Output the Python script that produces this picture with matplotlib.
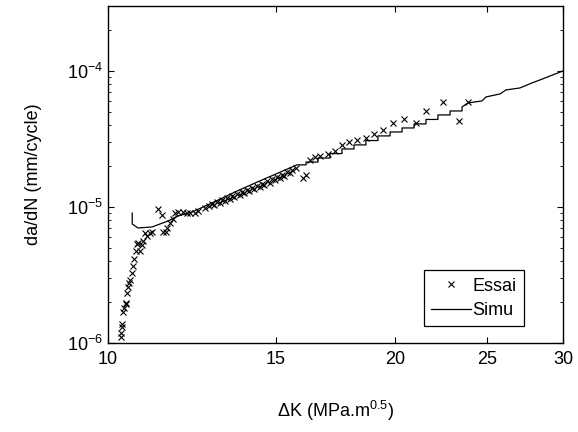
import matplotlib
matplotlib.use("Agg")
import matplotlib.pyplot as plt
from matplotlib.ticker import NullLocator, FixedLocator, FixedFormatter

plt.rcParams["font.family"] = ["Liberation Sans", "DejaVu Sans"]
plt.rcParams["mathtext.default"] = "regular"

# Essai (points mesures)
essai_dk = [10.32, 10.32, 10.34, 10.34, 10.37, 10.39, 10.44, 10.44, 10.47, 10.49,
            10.52, 10.55, 10.60, 10.62, 10.65, 10.70, 10.73, 10.75, 10.80, 10.86,
            10.88, 10.93, 10.99, 11.07, 11.12, 11.28, 11.38, 11.42, 11.50, 11.53,
            11.61, 11.70, 11.76, 11.84, 11.97, 12.10, 12.19, 12.34, 12.43, 12.64,
            12.75, 12.85, 13.01, 13.17, 13.33, 13.49, 13.65, 13.82, 13.99, 14.16,
            14.33, 14.50, 14.68, 14.86, 15.04, 15.22, 15.41, 15.59, 15.75, 16.01,
            16.13, 16.29, 16.49, 16.68, 17.00, 17.30, 17.60, 17.90, 18.24, 18.64,
            19.01, 19.43, 19.90, 20.44, 21.04, 21.55, 22.45, 23.34, 23.85,
            12.93, 13.09, 13.25, 13.41, 13.57, 13.74, 13.90, 14.07, 14.24, 14.42,
            14.59, 14.77, 14.95, 15.13, 15.31, 15.50]
essai_dadn = [1.11e-6, 1.18e-6, 1.31e-6, 1.38e-6, 1.69e-6, 1.81e-6, 1.94e-6, 1.97e-6, 2.33e-6, 2.58e-6,
              2.76e-6, 2.91e-6, 3.27e-6, 3.68e-6, 4.15e-6, 4.75e-6, 5.35e-6, 5.44e-6, 4.75e-6, 5.26e-6,
              5.62e-6, 6.44e-6, 6.12e-6, 6.44e-6, 6.55e-6, 9.67e-6, 8.73e-6, 6.55e-6, 6.55e-6, 7.01e-6,
              7.63e-6, 8.16e-6, 9.03e-6, 9.19e-6, 9.19e-6, 9.03e-6, 9.03e-6, 9.03e-6, 9.36e-6, 9.84e-6,
              1.017e-5, 1.052e-5, 1.089e-5, 1.125e-5, 1.165e-5, 1.205e-5, 1.247e-5, 1.29e-5, 1.33e-5, 1.38e-5,
              1.43e-5, 1.48e-5, 1.55e-5, 1.61e-5, 1.66e-5, 1.72e-5, 1.81e-5, 1.87e-5, 1.94e-5, 1.63e-5,
              1.72e-5, 2.22e-5, 2.33e-5, 2.37e-5, 2.45e-5, 2.58e-5, 2.86e-5, 3.0e-5, 3.11e-5, 3.22e-5,
              3.44e-5, 3.68e-5, 4.15e-5, 4.44e-5, 4.15e-5, 5.08e-5, 5.92e-5, 4.29e-5, 5.92e-5,
              1.03e-5, 1.07e-5, 1.10e-5, 1.14e-5, 1.18e-5, 1.22e-5, 1.27e-5, 1.31e-5, 1.35e-5, 1.40e-5,
              1.45e-5, 1.51e-5, 1.57e-5, 1.63e-5, 1.70e-5, 1.77e-5]

# Simu (courbe simulee, avec paliers)
simu_dk = [10.60, 10.60, 10.75, 11.12, 11.56, 11.84, 12.25, 12.85, 13.59, 14.26,
           15.78, 16.13, 16.13, 16.60, 16.60, 17.09, 17.09, 17.59, 17.59,
           18.11, 18.11, 18.64, 18.64, 19.19, 19.19, 19.76, 19.76, 20.34, 20.34,
           20.94, 20.94, 21.55, 21.55, 22.18, 22.18, 22.84, 22.84, 23.51, 23.51,
           23.85, 24.67, 24.91, 25.77, 26.14, 27.04, 27.83, 28.38, 30.0]
simu_dadn = [9.03e-6, 7.50e-6, 7.01e-6, 7.13e-6, 7.89e-6, 8.59e-6, 9.19e-6, 1.07e-5, 1.29e-5, 1.50e-5,
             2.04e-5, 2.04e-5, 2.14e-5, 2.14e-5, 2.29e-5, 2.29e-5, 2.47e-5, 2.47e-5, 2.67e-5,
             2.67e-5, 2.86e-5, 2.86e-5, 3.08e-5, 3.08e-5, 3.33e-5, 3.33e-5, 3.56e-5, 3.56e-5, 3.81e-5,
             3.81e-5, 4.08e-5, 4.08e-5, 4.40e-5, 4.40e-5, 4.75e-5, 4.75e-5, 5.08e-5, 5.08e-5, 5.44e-5,
             5.82e-5, 6.02e-5, 6.44e-5, 6.78e-5, 7.25e-5, 7.50e-5, 8.16e-5, 8.59e-5, 1.0e-4]

x_ticks = [10, 15, 20, 25, 30]

fig = plt.figure(figsize=(5.78, 4.32), dpi=100)
ax = fig.add_axes([0.187, 0.206, 0.787, 0.780])

ax.plot(essai_dk, essai_dadn, "x", color="black", markersize=4, markeredgewidth=0.8, label="Essai")
ax.plot(simu_dk, simu_dadn, "-", color="black", linewidth=0.9, label="Simu")

ax.set_xscale("log")
ax.set_yscale("log")
ax.set_xlim(10, 30)
ax.set_ylim(1e-6, 3e-4)
ax.xaxis.set_major_locator(FixedLocator(x_ticks))
ax.xaxis.set_major_formatter(FixedFormatter([str(t) for t in x_ticks]))
ax.xaxis.set_minor_locator(NullLocator())

ax.tick_params(which="both", direction="in", top=True, right=True, labelsize=13)
ax.tick_params(which="major", length=4, width=0.8)
ax.tick_params(which="minor", length=2, width=0.6)
ax.tick_params(axis="x", pad=6)
for s in ax.spines.values():
    s.set_linewidth(1.0)

ax.set_xlabel(r"$\Delta$K (MPa.m$^{0.5}$)", fontsize=13, labelpad=22)
ax.set_ylabel("da/dN (mm/cycle)", fontsize=13, labelpad=18)

leg = ax.legend(loc="lower right", bbox_to_anchor=(0.914, 0.05), borderaxespad=0,
                fontsize=13, fancybox=False, edgecolor="black", framealpha=1,
                handlelength=2.2, handletextpad=0.1, borderpad=0.4, labelspacing=0.4)
leg.get_frame().set_linewidth(0.9)

fig.savefig("out.png", dpi=100)
